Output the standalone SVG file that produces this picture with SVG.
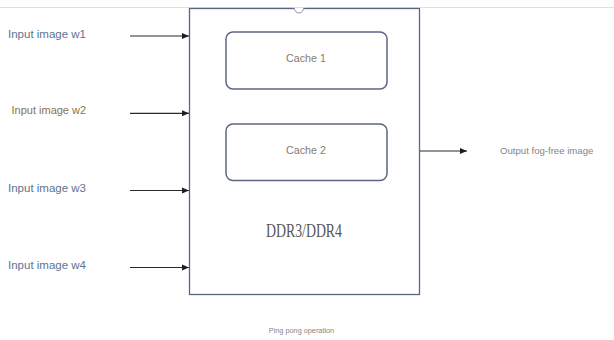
<svg xmlns="http://www.w3.org/2000/svg" width="614" height="340" viewBox="0 0 614 340">
  <style>
    .frame { fill: #ffffff; stroke: #5d6585; stroke-width: 1.3; }
    .cache { fill: #ffffff; stroke: #5d6585; stroke-width: 1.5; }
    .wire { stroke: #2b2b2b; stroke-width: 1.2; fill: none; }
    .sans { font-family: "Liberation Sans", Arial, sans-serif; }
    .in-blue { fill: #5d7391; font-size: 11.5px; }
    .in-brown { fill: #8a7355; font-size: 11px; }
    .cache-label { fill: #8a7a6c; font-size: 10.7px; text-anchor: middle; }
    .note { fill: #858585; }
  </style>
  <defs>
    <marker id="arrow" markerWidth="8" markerHeight="8" refX="7" refY="4" orient="auto" markerUnits="userSpaceOnUse">
      <path d="M0,1 L7,4 L0,7 Z" fill="#1e1e1e"/>
    </marker>
  </defs>

  <rect width="614" height="340" fill="#ffffff"/>
  <!-- top rule -->
  <line x1="0" y1="7.5" x2="614" y2="7.5" stroke="#dde0e7" stroke-width="1"/>

  <!-- memory block -->
  <g id="ddr">
    <rect class="frame" x="189.5" y="8.5" width="230" height="286"/>
    <circle cx="299" cy="8.5" r="4.5" fill="#ffffff" stroke="#8c92a8" stroke-width="1"/>
    <rect x="293" y="3" width="12" height="5" fill="#ffffff"/>
    <line x1="293" y1="7.5" x2="305" y2="7.5" stroke="#dde0e7" stroke-width="1"/>
    <text x="304" y="237" font-family="'Liberation Serif', 'DejaVu Serif', serif" font-size="18.5" fill="#555555" text-anchor="middle" textLength="76" lengthAdjust="spacingAndGlyphs">DDR3/DDR4</text>
  </g>

  <g id="cache1">
    <rect class="cache" x="226" y="32" width="161" height="57" rx="7"/>
    <text class="sans cache-label" x="306" y="62">Cache 1</text>
  </g>

  <g id="cache2">
    <rect class="cache" x="226" y="124" width="161" height="56.5" rx="7"/>
    <text class="sans cache-label" x="306" y="154">Cache 2</text>
  </g>

  <!-- inputs -->
  <g id="w1"><text class="sans in-blue" x="8" y="38">Input image w1</text></g>
  <g id="w2"><text class="sans in-brown" x="11.5" y="114">Input image w2</text></g>
  <g id="w3"><text class="sans in-blue" x="8" y="192">Input image w3</text></g>
  <g id="w4"><text class="sans in-blue" x="8" y="269">Input image w4</text></g>

  <!-- output -->
  <g id="output"><text class="sans note" x="500" y="153.5" font-size="9.6">Output fog-free image</text></g>

  <g id="caption"><text class="sans note" x="301.5" y="332.5" font-size="7.3" text-anchor="middle">Ping pong operation</text></g>

  <!-- connectors -->
  <g id="connectors">
    <line class="wire" x1="130" y1="36" x2="189" y2="36" marker-end="url(#arrow)"/>
    <line class="wire" x1="130" y1="113.3" x2="189" y2="113.3" marker-end="url(#arrow)"/>
    <line class="wire" x1="130" y1="190.5" x2="189" y2="190.5" marker-end="url(#arrow)"/>
    <line class="wire" x1="130" y1="267.5" x2="189" y2="267.5" marker-end="url(#arrow)"/>
    <line class="wire" x1="420" y1="151" x2="467" y2="151" marker-end="url(#arrow)"/>
  </g>
</svg>
